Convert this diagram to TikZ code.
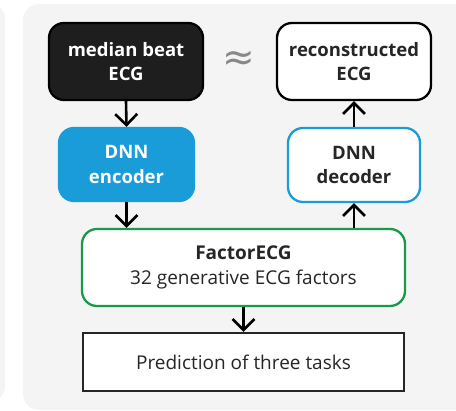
\documentclass[tikz,border=0pt]{standalone}
\usepackage{fontspec}
\setmainfont{Open Sans}
\newfontfamily\symfont{DejaVu Sans}
\usetikzlibrary{arrows.meta}
\definecolor{panelbg}{HTML}{F4F4F4}
\definecolor{inkdark}{HTML}{1E1E1E}
\definecolor{encblue}{HTML}{1A9CD8}
\definecolor{factgreen}{HTML}{1A9A48}
\definecolor{txtdark}{HTML}{262626}
\definecolor{approxgray}{HTML}{888888}
\tikzset{
  x=1pt, y=-1pt,
  flowbox/.style={rounded corners=15pt, line width=2.3pt, align=center,
    font=\fontsize{18.5}{24.5}\selectfont\bfseries, inner sep=0pt},
  flowarrow/.style={line width=2.6pt, -{Straight Barb[length=11pt,width=22pt,line width=2.6pt]}},
}
\begin{document}
\begin{tikzpicture}
\useasboundingbox (0,0) rectangle (456,411);
% neighbouring panel and the main panel
\fill[panelbg, rounded corners=14pt] (-30,4) rectangle (5,401);
\fill[panelbg, rounded corners=16pt] (23,4) rectangle (471,410);
% boxes
\node[flowbox, draw=black, fill=inkdark, text=white, minimum width=154pt, minimum height=77pt]
  (ecg) at (126,61.5) {median beat\\ECG};
\node[flowbox, draw=encblue, fill=encblue, text=white, minimum width=135pt, minimum height=73pt]
  (enc) at (126.5,164.5) {DNN\\encoder};
\node[flowbox, draw=black, fill=white, text=txtdark, minimum width=154pt, minimum height=77pt]
  (rec) at (354,61.5) {reconstructed\\ECG};
\node[flowbox, draw=encblue, fill=white, text=txtdark, minimum width=132pt, minimum height=74pt]
  (dec) at (354,165) {DNN\\decoder};
\node[flowbox, draw=factgreen, fill=white, text=txtdark, minimum width=323pt, minimum height=77pt,
  font=\fontsize{19}{24.5}\selectfont]
  (fac) at (243.5,267.5) {\textbf{FactorECG}\\32 generative ECG factors};
\node[draw=txtdark, line width=2.3pt, fill=white, text=txtdark, minimum width=321pt, minimum height=58pt,
  inner sep=0pt, font=\fontsize{19}{24}\selectfont]
  (pred) at (243.5,362) {Prediction of three tasks};
\node[text=approxgray, inner sep=0pt, font=\symfont\fontsize{39}{39}\selectfont] (approx) at (239,61) {≈};
% connectors
\draw[flowarrow] (ecg.south) -- (enc.north);
\draw[flowarrow] (enc.south) -- (fac.north -| enc.south);
\draw[flowarrow] (fac.north -| dec.south) -- (dec.south);
\draw[flowarrow] (dec.north) -- (rec.south);
\draw[flowarrow] (fac.south -| pred.north) -- (pred.north);
\end{tikzpicture}
\end{document}
